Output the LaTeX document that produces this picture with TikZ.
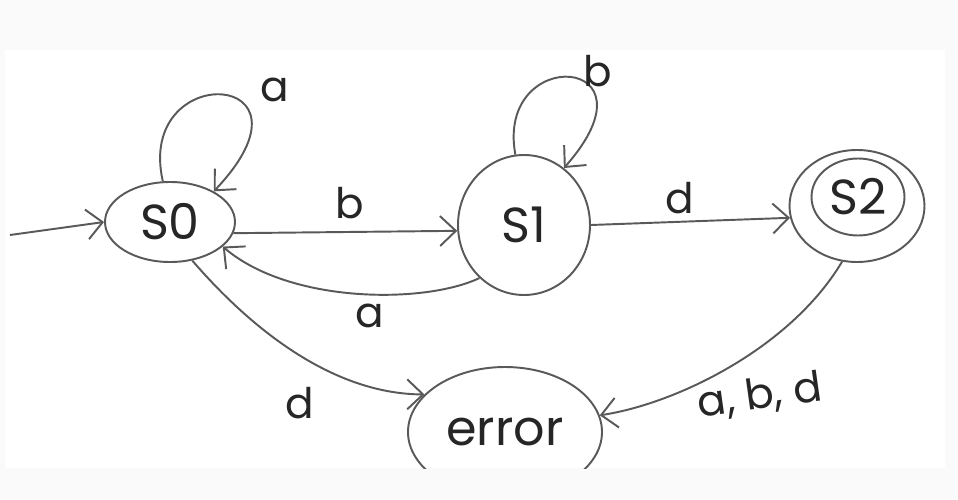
\documentclass[tikz,border=0pt]{standalone}
\usepackage{fontspec}
\setmainfont{Poppins}
\usetikzlibrary{positioning, arrows.meta, shapes.geometric, calc}

\begin{document}
\begin{tikzpicture}[
		>={Straight Barb[length=9pt,width=17pt]},
		% Styles for the states
		state/.style={
			ellipse, draw=black!65, line width=1.1pt, inner sep=0pt,
			font=\fontsize{28}{30}\selectfont, text=black!85
		},
		% Style for the transitions
		trans/.style={->, draw=black!65, line width=1.1pt},
		% Style for the transition labels
		trans_label/.style={font=\fontsize{24}{26}\selectfont, text=black!85}
		]
		
		% ==========================================
		% 0. Frame of the photo
		% ==========================================
		\fill[black!2] (0,0) rectangle (19.16,9.98);
		\fill[white] (0.1,0.62) rectangle (18.9,8.98);
		\useasboundingbox (0,0) rectangle (19.16,9.98);
		
		% ==========================================
		% 1. The states
		% ==========================================
		\node[state, minimum width=2.6cm, minimum height=1.6cm] (s0) at (3.4,5.54) {S0};
		\node[state, minimum width=2.64cm, minimum height=2.8cm] (s1) at (10.48,5.48) {S1};
		\node[state, minimum width=2.7cm, minimum height=2.24cm] (s2) at (17.14,5.86) {};
		\node[state, minimum width=1.86cm, minimum height=1.54cm] (s2in) at (17.16,6.04) {S2};
		
		% error state, cut off by the photo edge
		\begin{scope}
			\clip (0,0.62) rectangle (19.16,9.98);
			\node[state, minimum width=3.88cm, minimum height=2.6cm] (err) at (10.1,1.34) {error};
		\end{scope}
		
		% ==========================================
		% 2. The transitions
		% ==========================================
		\coordinate (start) at (0.2,5.28);
		\draw[trans] (start) -- (s0.west);
		
		% self loop on S0
		\draw[trans] (s0.100) .. controls (2.7,8.8) and (6.6,8.6) .. (s0.35);
		\node[trans_label] (la0) at (5.5,8.18) {a};
		
		% S0 <-> S1
		\draw[trans] (s0.-10) -- (s1.185);
		\node[trans_label] (lb0) at (7.0,5.92) {b};
		\draw[trans] (s1.-130) .. controls (8.5,3.9) and (5.8,3.9) .. (s0.-25);
		\node[trans_label] (la1) at (7.4,3.66) {a};
		
		% self loop on S1
		\draw[trans] (s1.97) .. controls (9.9,9.1) and (13.3,8.9) .. (s1.55);
		\node[trans_label] (lb1) at (11.96,8.55) {b};
		
		% S1 -> S2
		\draw[trans] (s1.east) -- (s2.190);
		\node[trans_label] (ld1) at (13.6,6.02) {d};
		
		% into error
		\draw[trans] (s0.-60) .. controls (5.2,3.2) and (6.8,2.1) .. (err.155);
		\node[trans_label] (ld0) at (6.0,1.92) {d};
		\draw[trans] (s2.-105) .. controls (15.8,3.0) and (13.5,1.9) .. (err.10);
		\node[trans_label, rotate=8] (labd) at (15.2,2.05) {a, b, d};
		
	\end{tikzpicture}
\end{document}
